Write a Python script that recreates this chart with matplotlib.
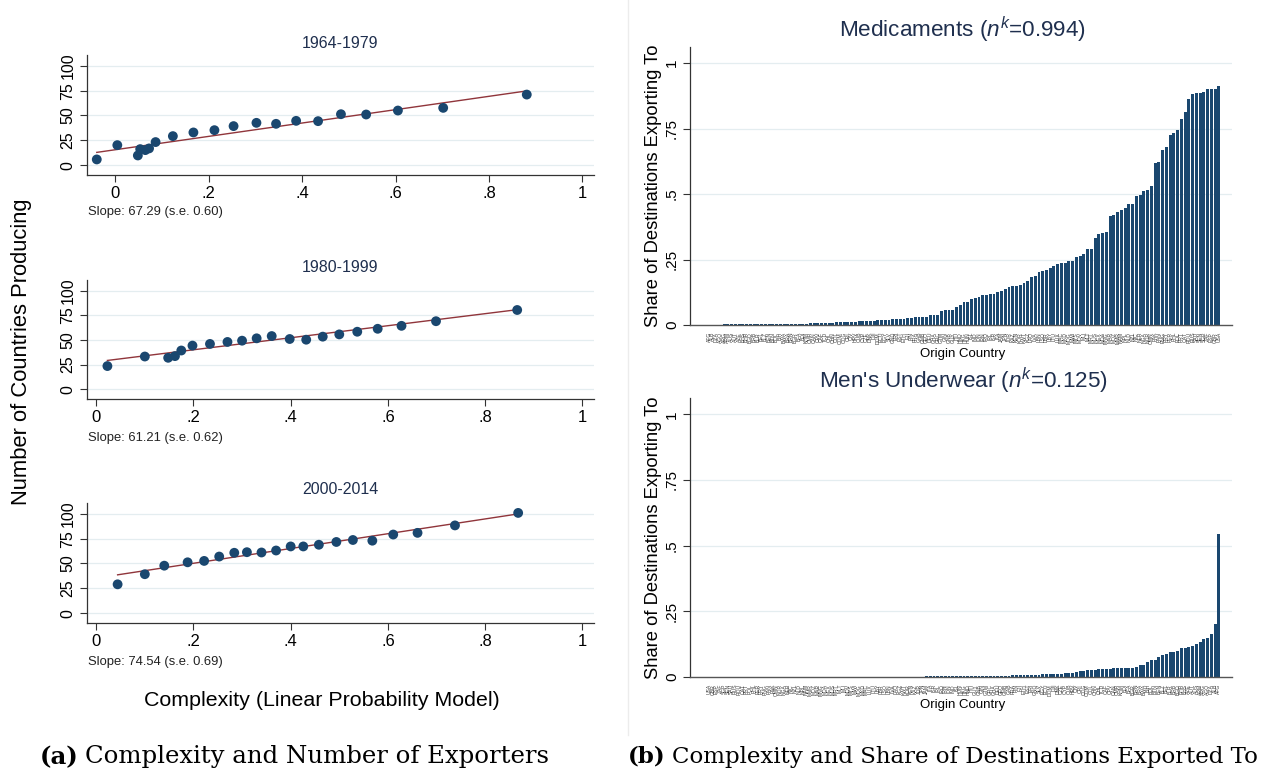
import numpy as np
import matplotlib.pyplot as plt

plt.rcParams['font.family'] = ['Liberation Sans', 'DejaVu Sans']
plt.rcParams['mathtext.fontset'] = 'custom'
plt.rcParams['mathtext.rm'] = 'Liberation Sans'
plt.rcParams['mathtext.it'] = 'Liberation Sans:italic'

# Colours (Stata s2color look)
navy = '#1a476f'
maroon = '#90353b'
grid_col = '#e4edf0'
title_col = '#1f2f4e'

# ---- Panel (a): binned scatter, complexity vs number of exporters ----
periods = ['1964-1979', '1980-1999', '2000-2014']
slope_text = ['Slope: 67.29 (s.e. 0.60)', 'Slope: 61.21 (s.e. 0.62)', 'Slope: 74.54 (s.e. 0.69)']
fit_slope = [67.29, 61.21, 74.54]
fit_intercept = [15.5, 27.8, 35.3]

cx_6479 = [-0.040, 0.004, 0.048, 0.053, 0.064, 0.072, 0.086, 0.123, 0.167, 0.212,
           0.253, 0.302, 0.344, 0.387, 0.434, 0.483, 0.537, 0.605, 0.702, 0.881]
ny_6479 = [5.7, 20.1, 9.7, 16.1, 15.1, 16.8, 23.2, 29.2, 32.9, 35.2,
           39.3, 42.6, 41.6, 44.6, 44.3, 51.3, 51.0, 55.0, 57.7, 71.1]
cx_8099 = [0.023, 0.100, 0.148, 0.162, 0.175, 0.198, 0.234, 0.270, 0.300, 0.330,
           0.361, 0.398, 0.432, 0.466, 0.500, 0.537, 0.579, 0.628, 0.699, 0.866]
ny_8099 = [23.5, 33.2, 31.9, 33.6, 39.3, 44.3, 46.0, 48.0, 49.3, 51.7,
           54.0, 51.0, 50.3, 53.4, 55.7, 58.4, 61.4, 64.4, 69.1, 80.5]
cx_0014 = [0.044, 0.100, 0.140, 0.188, 0.222, 0.253, 0.284, 0.310, 0.340, 0.370,
           0.400, 0.426, 0.458, 0.494, 0.528, 0.568, 0.611, 0.661, 0.738, 0.868]
ny_0014 = [29.0, 39.2, 47.8, 51.2, 52.6, 57.0, 60.8, 61.4, 61.1, 63.1,
           67.2, 67.2, 68.9, 71.7, 73.7, 73.0, 79.2, 80.9, 88.4, 101.0]

x_ticks = [0, 0.2, 0.4, 0.6, 0.8, 1]
x_tick_labels = ['0', '.2', '.4', '.6', '.8', '1']
y_ticks = [0, 25, 50, 75, 100]
y_tick_labels = ['0', '25', '50', '75', '100']

# ---- Panel (b): share of destinations, sorted by origin country ----
origin_codes = [
    'AFG', 'ALB', 'DZA', 'AGO', 'ARG', 'ARM', 'AUS', 'AUT', 'AZE', 'BHS',
    'BHR', 'BGD', 'BRB', 'BLR', 'BEL', 'BLZ', 'BEN', 'BTN', 'BOL', 'BIH',
    'BWA', 'BRA', 'BRN', 'BGR', 'BFA', 'BDI', 'KHM', 'CMR', 'CAN', 'CPV',
    'CAF', 'TCD', 'CHL', 'CHN', 'COL', 'COM', 'COG', 'CRI', 'CIV', 'HRV',
    'CUB', 'CYP', 'CZE', 'DNK', 'DJI', 'DOM', 'ECU', 'EGY', 'SLV', 'GNQ',
    'ERI', 'EST', 'ETH', 'FJI', 'FIN', 'FRA', 'GAB', 'GMB', 'GEO', 'DEU',
    'GHA', 'GRC', 'GTM', 'GIN', 'GNB', 'GUY', 'HTI', 'HND', 'HKG', 'HUN',
    'ISL', 'IND', 'IDN', 'IRN', 'IRQ', 'IRL', 'ISR', 'ITA', 'JAM', 'JPN',
    'JOR', 'KAZ', 'KEN', 'KOR', 'KWT', 'KGZ', 'LAO', 'LVA', 'LBN', 'LSO',
    'LBR', 'LBY', 'LTU', 'LUX', 'MAC', 'MKD', 'MDG', 'MWI', 'MYS', 'MDV',
    'MLI', 'MLT', 'MRT', 'MUS', 'MEX', 'MDA', 'MNG', 'MAR', 'MOZ', 'MMR',
    'NAM', 'NPL', 'NLD', 'NZL', 'NIC', 'NER', 'NGA', 'NOR', 'OMN', 'PAK',
    'PAN', 'PNG', 'PRY', 'PER', 'PHL', 'POL', 'PRT', 'QAT', 'ROU', 'RUS',
    'SAU', 'SEN', 'SGP', 'ZAF', 'ESP', 'GBR', 'USA']

medicaments_share = [
    0.0, 0.0, 0.0, 0.0,
    0.002, 0.002, 0.002, 0.002, 0.003, 0.003, 0.003, 0.003, 0.003, 0.003,
    0.003, 0.003, 0.004, 0.004, 0.004, 0.004, 0.004, 0.004, 0.004, 0.005,
    0.005, 0.005, 0.005,
    0.007, 0.008, 0.008, 0.008, 0.008, 0.009, 0.009,
    0.011, 0.011, 0.011, 0.011, 0.012, 0.012,
    0.015, 0.015, 0.015, 0.015, 0.016,
    0.019, 0.019, 0.019, 0.020,
    0.022, 0.023, 0.023, 0.023,
    0.026, 0.027,
    0.030, 0.031, 0.031, 0.031,
    0.037, 0.038, 0.038,
    0.053, 0.056, 0.057, 0.057, 0.067, 0.076, 0.088, 0.088, 0.099, 0.104,
    0.108, 0.113,
    0.115, 0.117, 0.117, 0.127, 0.131, 0.136, 0.145, 0.149, 0.149, 0.153,
    0.162, 0.168, 0.184, 0.187, 0.202, 0.206, 0.210, 0.218, 0.226, 0.233,
    0.237, 0.237, 0.244, 0.244, 0.260, 0.263, 0.271, 0.290, 0.290, 0.331,
    0.347, 0.351, 0.355, 0.417, 0.420, 0.430, 0.438, 0.448, 0.464, 0.464,
    0.492, 0.496, 0.511, 0.515, 0.530, 0.617, 0.622, 0.668, 0.679, 0.724,
    0.733, 0.744, 0.786, 0.813, 0.863, 0.882, 0.885, 0.885, 0.889, 0.900,
    0.903, 0.903, 0.912]

underwear_share = [
    0.0, 0.0, 0.0, 0.0, 0.0, 0.0, 0.0, 0.0, 0.0, 0.0,
    0.0, 0.0, 0.0, 0.0, 0.0, 0.0, 0.0, 0.0, 0.0, 0.0,
    0.0, 0.0, 0.0, 0.0, 0.0, 0.0, 0.0, 0.0, 0.0, 0.0,
    0.0, 0.0, 0.0, 0.0, 0.0, 0.0, 0.0, 0.0, 0.0, 0.0,
    0.0, 0.0, 0.0, 0.0, 0.0, 0.0, 0.0, 0.0,
    0.001, 0.001, 0.001, 0.001, 0.001, 0.001, 0.001, 0.001, 0.001, 0.001,
    0.002, 0.002, 0.002, 0.002, 0.002, 0.002, 0.002, 0.002, 0.002, 0.002,
    0.003, 0.003, 0.003, 0.003, 0.003, 0.003, 0.003, 0.003,
    0.004, 0.004, 0.004, 0.005, 0.005,
    0.006, 0.007, 0.008, 0.008, 0.008, 0.008, 0.009, 0.009,
    0.011, 0.012, 0.012, 0.012, 0.013, 0.013,
    0.015, 0.015, 0.016,
    0.020, 0.021, 0.022,
    0.025, 0.026,
    0.028, 0.029, 0.030, 0.030, 0.031,
    0.033, 0.034, 0.034, 0.034, 0.035,
    0.035, 0.039, 0.044, 0.047,
    0.057, 0.064, 0.065, 0.077, 0.083, 0.087, 0.095, 0.096, 0.098, 0.110,
    0.111, 0.114, 0.117, 0.125, 0.133, 0.145, 0.150, 0.163, 0.200, 0.545]

bar_titles = ['Medicaments ($n^{k}$=0.994)', "Men's Underwear ($n^{k}$=0.125)"]
bar_y_ticks = [0, 0.25, 0.5, 0.75, 1]
bar_y_tick_labels = ['0', '.25', '.5', '.75', '1']

W, H = 1263, 771
fig = plt.figure(figsize=(W / 100, H / 100), dpi=100)


def fx(px):
    return px / W


def fy(py):
    return 1 - py / H


# left panels: pixel boxes (top, bottom) and text rows
left_boxes = [(55, 175), (280, 399), (503, 623)]
title_rows = [43, 267, 490]
slope_rows = [212, 438, 662]
xlims = [(-0.062, 1.025), (-0.020, 1.024), (-0.020, 1.024)]
scatter_x = [cx_6479, cx_8099, cx_0014]
scatter_y = [ny_6479, ny_8099, ny_0014]

for i in range(3):
    top, bot = left_boxes[i]
    ax = fig.add_axes([fx(86.5), fy(bot), fx(594 - 86.5), (bot - top) / H])
    xs = np.array(scatter_x[i])
    ys = np.array(scatter_y[i])
    for yt in y_ticks:
        ax.axhline(yt, color=grid_col, lw=0.9, zorder=0)
    line_x = np.array([xs.min(), xs.max()])
    ax.plot(line_x, fit_intercept[i] + fit_slope[i] * line_x, color=maroon, lw=1.0, zorder=2)
    ax.scatter(xs, ys, s=50, color=navy, edgecolors='none', zorder=3)
    ax.set_xlim(*xlims[i])
    ax.set_ylim(-10, 111)
    ax.set_xticks(x_ticks)
    ax.set_xticklabels(x_tick_labels, fontsize=12)
    ax.set_yticks(y_ticks)
    ax.set_yticklabels(y_tick_labels, fontsize=11.5, rotation=90, va='center')
    ax.tick_params(length=5, width=0.8, color='#333333', pad=3)
    for side in ['top', 'right']:
        ax.spines[side].set_visible(False)
    for side in ['left', 'bottom']:
        ax.spines[side].set_color('#333333')
        ax.spines[side].set_linewidth(0.9)
    fig.text(fx(340), fy(title_rows[i]), periods[i], ha='center', va='center',
             fontsize=11.5, color=title_col)
    fig.text(fx(88), fy(slope_rows[i]), slope_text[i], ha='left', va='center',
             fontsize=9.4, color='#222222')

fig.text(fx(22), fy(352), 'Number of Countries Producing', rotation=90,
         ha='center', va='center', fontsize=15.8)
fig.text(fx(322), fy(700), 'Complexity (Linear Probability Model)',
         ha='center', va='center', fontsize=15.4)

# right panels: bar charts
bar_boxes = [(47, 325), (398, 677)]
bar_title_rows = [30, 381]
xlabel_rows = [354, 705]
bar_values = [medicaments_share, underwear_share]
bar_labels = [origin_codes, origin_codes[::-1]]

for i in range(2):
    top, bot = bar_boxes[i]
    ax = fig.add_axes([fx(690), fy(bot), fx(1232 - 690), (bot - top) / H])
    vals = bar_values[i]
    pos = np.arange(len(vals))
    for yt in bar_y_ticks[1:]:
        ax.axhline(yt, color=grid_col, lw=0.9, zorder=0)
    ax.bar(pos, vals, width=0.78, color=navy, zorder=2)
    ax.set_xlim(-5.1, 139.5)
    ax.set_ylim(0, 1.062)
    ax.set_yticks(bar_y_ticks)
    ax.set_yticklabels(bar_y_tick_labels, fontsize=11, rotation=90, va='center')
    ax.set_xticks(pos)
    ax.set_xticklabels(bar_labels[i], rotation=90, fontsize=3.6, color='#3a3a3a')
    ax.tick_params(axis='x', length=0, pad=5)
    ax.tick_params(axis='y', length=5, width=0.8, color='#333333', pad=3)
    for side in ['top', 'right']:
        ax.spines[side].set_visible(False)
    ax.spines['left'].set_color('#333333')
    ax.spines['bottom'].set_color('#555555')
    ax.spines['left'].set_linewidth(0.9)
    ax.spines['bottom'].set_linewidth(1.0)
    fig.text(fx(653), fy((top + bot) / 2), 'Share of Destinations Exporting To',
             rotation=90, ha='center', va='center', fontsize=13.2)
    fig.text(fx(963), fy(bar_title_rows[i]), bar_titles[i], ha='center', va='center',
             fontsize=16.2, color=title_col)
    fig.text(fx(963), fy(xlabel_rows[i]), 'Origin Country', ha='center', va='center',
             fontsize=9.5)

# thin separator between the two sub-figures
fig.add_artist(plt.Line2D([fx(628), fx(628)], [fy(735), 1], color='#ececec', lw=1))

# sub-figure captions (serif, bold label)
captions = [('(a)', 'Complexity and Number of Exporters', 40, 17.6),
            ('(b)', 'Complexity and Share of Destinations Exported To', 628, 16.5)]
fig.canvas.draw()
renderer = fig.canvas.get_renderer()
for lab, txt, x0, fs in captions:
    t = fig.text(fx(x0), fy(757), lab, ha='left', va='center', fontsize=fs,
                 fontweight='bold', family='DejaVu Serif')
    bb = t.get_window_extent(renderer)
    fig.text((bb.x1 + 6) / W, fy(757), txt, ha='left', va='center', fontsize=fs,
             family='DejaVu Serif')

fig.savefig('out.png', dpi=100)
